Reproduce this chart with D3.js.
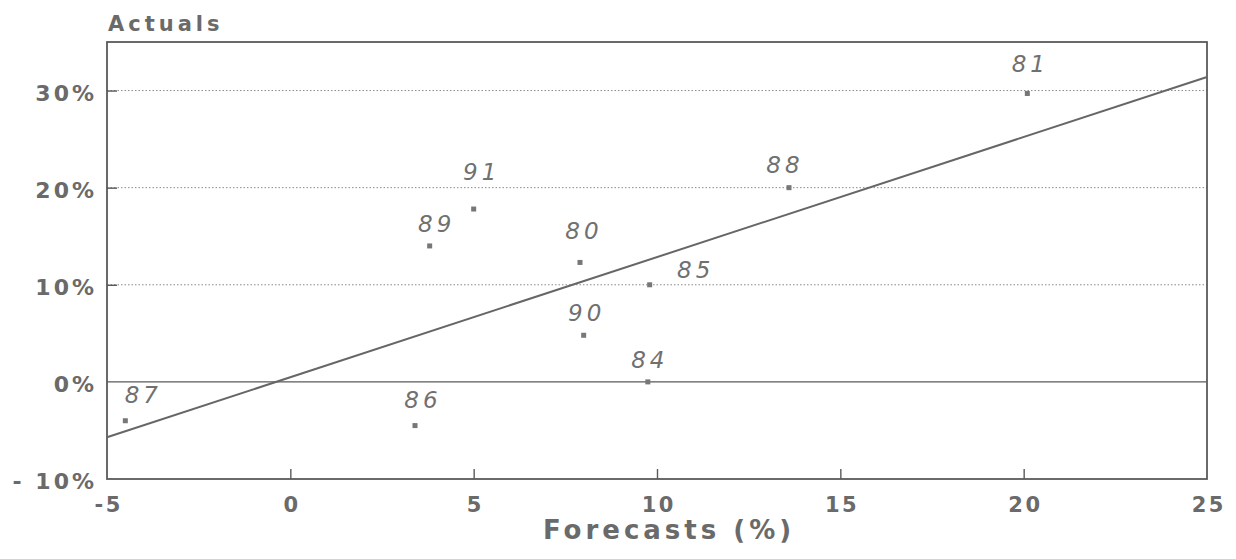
<!DOCTYPE html>
<html>
<head>
<meta charset="utf-8">
<script src="https://cdn.jsdelivr.net/npm/d3@7/dist/d3.min.js"></script>
<style>
html,body{margin:0;padding:0;background:#fff;}
svg{display:block;}
</style>
</head>
<body>
<svg id="chart" width="1236" height="559"></svg>
<script>
// ---- data ----
const years     = ["80","81","84","85","86","87","88","89","90","91"];
const forecasts = [7.9, 20.1, 9.75, 9.8, 3.4, -4.5, 13.6, 3.8, 8.0, 5.0];
const actuals   = [12.3, 29.7, 0.0, 10.0, -4.5, -4.0, 20.0, 14.0, 4.8, 17.8];
const fitX      = [-5, 25];
const fitY      = [-5.7, 31.4];
const xTicks    = [-5, 0, 5, 10, 15, 20, 25];
const xTickLabels = ["-5", "0", "5", "10", "15", "20", "25"];
const yTicks    = [-10, 0, 10, 20, 30];
const yTickLabels = ["- 10%", "0%", "10%", "20%", "30%"];
const gridVals  = [10, 20, 30];

// ---- layout (label offsets in px relative to point) ----
const labelDx = {"80":2,"81":1,"84":0,"85":44,"86":6,"87":16,"88":-6,"89":5,"90":1,"91":6};
const labelDy = {"80":-23,"81":-21,"84":-14,"85":-7,"86":-18,"87":-18,"88":-15,"89":-14,"90":-14,"91":-29};

const margin = {left:107, right:29, top:42, bottom:80};
const W = 1236, H = 559;
const svg = d3.select("#chart");
const x = d3.scaleLinear().domain([-5, 25]).range([margin.left, W - margin.right]);
const y = d3.scaleLinear().domain([-10, 35]).range([H - margin.bottom, margin.top]);

const ink = "#5a5a5a";
const textCol = "#6a6a6a";
const FONT = "DejaVu Sans, sans-serif";

// gridlines
svg.append("g").selectAll("line").data(gridVals).join("line")
  .attr("x1", x(-5)).attr("x2", x(25))
  .attr("y1", d => y(d)).attr("y2", d => y(d))
  .attr("stroke", "#8a8a8a").attr("stroke-width", 1)
  .attr("stroke-dasharray", "1.5,2");

// zero line
svg.append("line")
  .attr("x1", x(-5)).attr("x2", x(25))
  .attr("y1", y(0)).attr("y2", y(0))
  .attr("stroke", ink).attr("stroke-width", 1.4);

// frame
svg.append("rect")
  .attr("x", x(-5)).attr("y", y(35))
  .attr("width", x(25) - x(-5)).attr("height", y(-10) - y(35))
  .attr("fill", "none").attr("stroke", ink).attr("stroke-width", 1.8);

// x axis (ticks inside)
const xAxis = d3.axisBottom(x).tickValues(xTicks).tickSizeInner(-10).tickSizeOuter(0)
  .tickFormat((d, i) => xTickLabels[i]).tickPadding(18);
const gx = svg.append("g").attr("transform", `translate(0,${y(-10)})`).call(xAxis);
gx.select(".domain").remove();
gx.selectAll(".tick line").attr("stroke", ink).attr("stroke-width", 1.4)
  .filter(d => d === -5 || d === 25).remove();
gx.selectAll(".tick text")
  .attr("fill", textCol).attr("font-family", FONT)
  .attr("font-weight", "bold").attr("font-size", 21).attr("letter-spacing", 2.5)
  .attr("dx", 1.25)
  .attr("dy", "0.71em");

// y axis (ticks inside)
const yAxis = d3.axisLeft(y).tickValues(yTicks).tickSizeInner(-10).tickSizeOuter(0)
  .tickFormat((d, i) => yTickLabels[i]).tickPadding(24);
const gy = svg.append("g").attr("transform", `translate(${x(-5)},0)`).call(yAxis);
gy.select(".domain").remove();
gy.selectAll(".tick line").attr("stroke", ink).attr("stroke-width", 1.4)
  .filter(d => d === -10 || d === 0).remove();
gy.selectAll(".tick text")
  .attr("fill", textCol).attr("font-family", FONT)
  .attr("font-weight", "bold").attr("font-size", 22).attr("letter-spacing", 3)
  .attr("dy", "0.43em").attr("x", -10);

// regression line
svg.append("line")
  .attr("x1", x(fitX[0])).attr("y1", y(fitY[0]))
  .attr("x2", x(fitX[1])).attr("y2", y(fitY[1]))
  .attr("stroke", "#666").attr("stroke-width", 2);

// points
const pts = years.map((yr, i) => ({yr, fx: forecasts[i], ac: actuals[i]}));
svg.append("g").selectAll("rect").data(pts).join("rect")
  .attr("x", d => x(d.fx) - 2.5).attr("y", d => y(d.ac) - 2.5)
  .attr("width", 5).attr("height", 5)
  .attr("fill", "#777");

// point labels
svg.append("g").selectAll("text").data(pts).join("text")
  .attr("x", d => x(d.fx) + labelDx[d.yr] + 2)
  .attr("y", d => y(d.ac) + labelDy[d.yr])
  .attr("text-anchor", "middle")
  .attr("font-family", FONT)
  .attr("font-style", "italic").attr("font-size", 23).attr("letter-spacing", 4)
  .attr("fill", "#707070")
  .text(d => d.yr);

// titles
svg.append("text")
  .attr("x", 108).attr("y", 31)
  .attr("font-family", FONT).attr("font-weight", "bold")
  .attr("font-size", 21).attr("letter-spacing", 4).attr("fill", textCol)
  .text("Actuals");

svg.append("text")
  .attr("x", 669).attr("y", 539)
  .attr("text-anchor", "middle")
  .attr("font-family", FONT).attr("font-weight", "bold")
  .attr("font-size", 26).attr("letter-spacing", 4).attr("fill", textCol)
  .text("Forecasts (%)");
</script>
</body>
</html>
